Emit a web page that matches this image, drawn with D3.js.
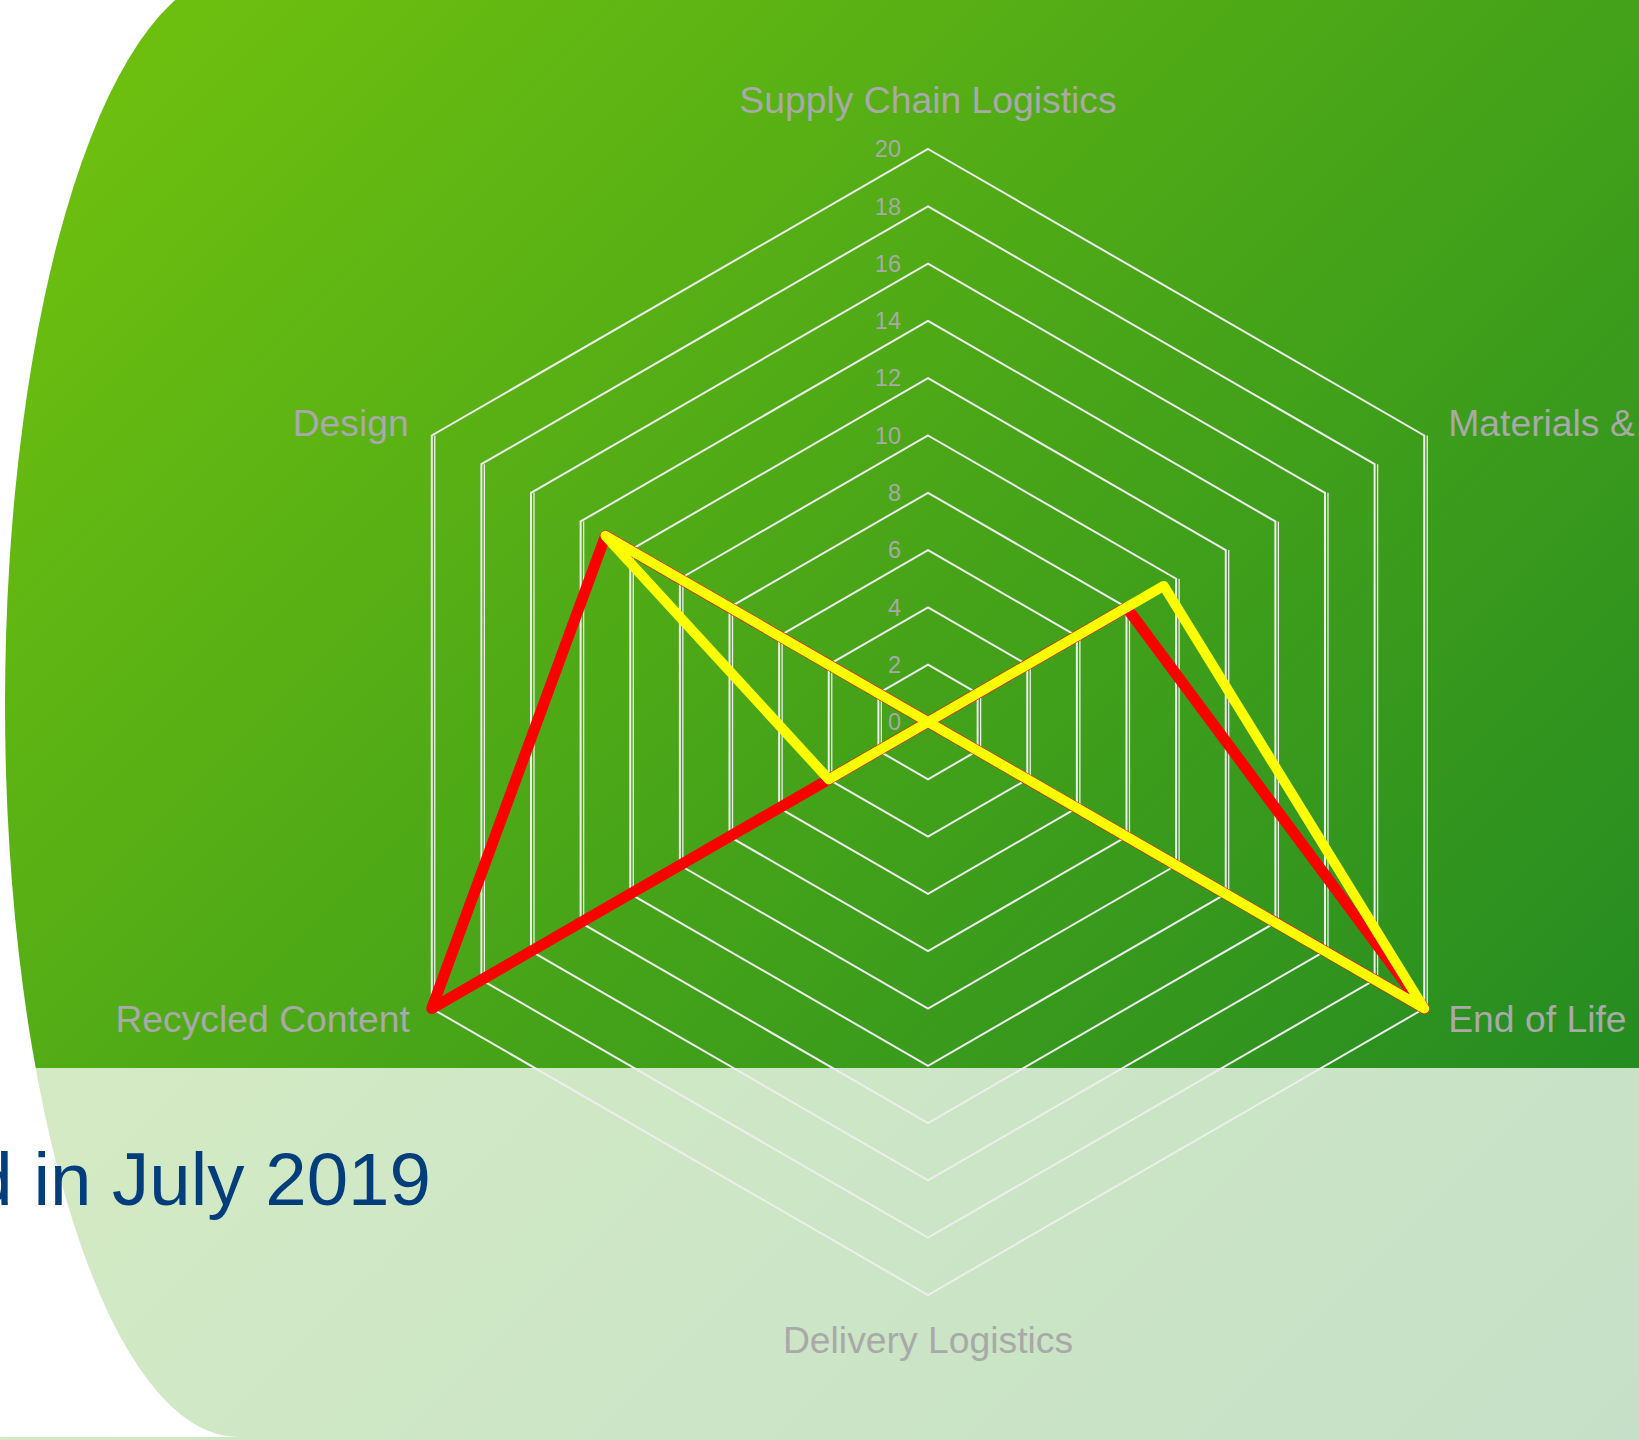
<!DOCTYPE html>
<html>
<head>
<meta charset="utf-8">
<script src="https://cdn.jsdelivr.net/npm/d3@7.9.0/dist/d3.min.js"></script>
<style>
  body { margin: 0; overflow: hidden; background: #fff; }
  svg { display: block; font-family: "Liberation Sans", Arial, sans-serif; }
</style>
</head>
<body>
<svg width="1639" height="1440"></svg>
<script>
// axis categories, clockwise from the top
const axes = ["Supply Chain Logistics", "Materials & Packaging", "End of Life",
              "Delivery Logistics", "Recycled Content", "Design"];

// the two series
const redValues = [0, 8, 20, 0, 20, 13];
const yellowValues = [0, 9.5, 20, 0, 4, 13];

// radial ticks
const ticks = [0, 2, 4, 6, 8, 10, 12, 14, 16, 18, 20];

const titleText = "Last updated in July 2019";

const width = 1639, height = 1440;
const cx = 928, cy = 722, R = 573;

let svg = d3.select("svg");

// background gradient
let defs = svg.append("defs");
let grad = defs.append("linearGradient")
  .attr("id", "bg")
  .attr("gradientUnits", "userSpaceOnUse")
  .attr("x1", 200).attr("y1", 0)
  .attr("x2", width).attr("y2", height);
grad.append("stop").attr("offset", 0).attr("stop-color", "#6dbf0f");
grad.append("stop").attr("offset", 1).attr("stop-color", "#1a8424");

// big rounded shape behind the chart
svg.append("rect")
  .attr("x", 5).attr("y", -27)
  .attr("width", 4000).attr("height", 1464)
  .attr("rx", 233).attr("ry", 732)
  .attr("fill", "url(#bg)");

svg.append("rect")
  .attr("x", 0).attr("y", 1437)
  .attr("width", width).attr("height", 3)
  .attr("fill", "url(#bg)");

// pale lower band
svg.append("rect")
  .attr("x", 0).attr("y", 1068)
  .attr("width", width).attr("height", height - 1068)
  .attr("fill", "#fff")
  .attr("fill-opacity", 0.75);

// title (runs off the left edge)
svg.append("text")
  .attr("x", 431).attr("y", 1205)
  .attr("text-anchor", "end")
  .attr("font-size", 74.5)
  .attr("fill", "#033e7c")
  .text(titleText);

// radar scales
let r = d3.scaleLinear().domain([0, 20]).range([0, R]);
let angle = d3.scaleLinear().domain([0, axes.length]).range([-Math.PI / 2, 1.5 * Math.PI]);

function point(i, v) {
  let a = angle(i);
  return [cx + r(v) * Math.cos(a), cy + r(v) * Math.sin(a)];
}

// grid hexagons
let grid = svg.append("g");
ticks.filter(t => t > 0).forEach(t => {
  let pts = axes.map((_, i) => point(i, t));
  grid.append("path")
    .attr("d", d3.line()(pts) + "Z")
    .attr("fill", "none")
    .attr("stroke", "#eeeeee")
    .attr("stroke-width", 2);
  // the vertical edges are drawn doubled in the original
  [[1, 2], [4, 5]].forEach(([a, b]) => {
    let p1 = point(a, t), p2 = point(b, t);
    grid.append("line")
      .attr("x1", p1[0] + 3).attr("y1", p1[1])
      .attr("x2", p2[0] + 3).attr("y2", p2[1])
      .attr("stroke", "#eeeeee")
      .attr("stroke-width", 1.3);
  });
});

// tick labels
svg.append("g").selectAll("text")
  .data(ticks)
  .join("text")
  .attr("x", cx - 27)
  .attr("y", d => cy - r(d))
  .attr("dy", "0.35em")
  .attr("text-anchor", "end")
  .attr("font-size", 23.5)
  .attr("fill", "#a9a9a9")
  .text(d => d);

// axis labels
const labelLayout = [
  { anchor: "middle", dx: 0, dy: -36 },
  { anchor: "start", dx: 24, dy: 0 },
  { anchor: "start", dx: 24, dy: 23 },
  { anchor: "middle", dx: 0, dy: 58 },
  { anchor: "end", dx: -22, dy: 23 },
  { anchor: "end", dx: -23, dy: 0 }
];
svg.append("g").selectAll("text")
  .data(axes)
  .join("text")
  .attr("x", (d, i) => point(i, 20)[0] + labelLayout[i].dx)
  .attr("y", (d, i) => point(i, 20)[1] + labelLayout[i].dy)
  .attr("text-anchor", (d, i) => labelLayout[i].anchor)
  .attr("font-size", 37.3)
  .attr("fill", "#a9a9a9")
  .text(d => d);

// series lines
let radarLine = d3.line()
  .x((d, i) => point(i, d)[0])
  .y((d, i) => point(i, d)[1])
  .curve(d3.curveLinearClosed);

[[redValues, "#ff0000", 11], [yellowValues, "#ffff00", 10]].forEach(([vals, color, w]) => {
  svg.append("path")
    .attr("d", radarLine(vals))
    .attr("fill", "none")
    .attr("stroke", color)
    .attr("stroke-width", w)
    .attr("stroke-linejoin", "round")
    .attr("stroke-linecap", "round");
});
</script>
</body>
</html>
